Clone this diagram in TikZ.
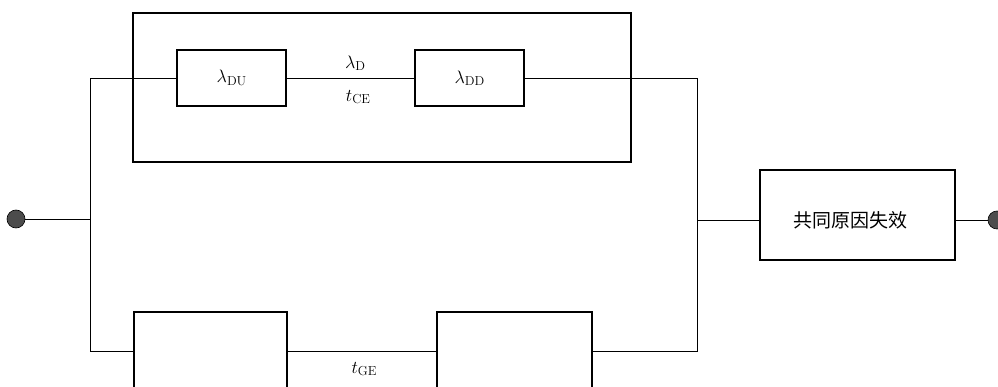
\RequirePackage{fix-cm}
\documentclass[tikz,border=0pt]{standalone}
\usepackage{fontspec}
\newfontfamily\cjk{Noto Sans CJK SC}
% upright subscript set at a fixed size below the baseline
\newcommand\lowsub[1]{\raisebox{-0.32ex}{\fontsize{13}{15}\selectfont #1}}
\begin{document}
\begin{tikzpicture}[x=1pt,y=-1pt,
  blk/.style={draw, line width=1.5pt, inner sep=0pt},
  wire/.style={line width=0.8pt},
  term/.style={circle, draw, line width=0.6pt, fill=black!70, minimum size=18pt, inner sep=0pt},
  lbl/.style={inner sep=0pt, font=\fontsize{18}{22}\selectfont}]
\clip (0,0) rectangle (998,387);
\useasboundingbox (0,0) rectangle (998,387);
% outer box around the detected branch
\node[blk, minimum width=498pt, minimum height=149pt] (grp) at (382,87.5) {};
% inner blocks
\node[blk, minimum width=109pt, minimum height=56pt, lbl] (du) at (231.5,78) {$\lambda$\lowsub{DU}};
\node[blk, minimum width=109pt, minimum height=56pt, lbl] (dd) at (469.5,78) {$\lambda$\lowsub{DD}};
% lower branch blocks
\node[blk, minimum width=153pt, minimum height=78pt] (g1) at (210.5,351) {};
\node[blk, minimum width=155pt, minimum height=78pt] (g2) at (514.5,351) {};
% common cause block
\node[blk, minimum width=195pt, minimum height=90pt] (ccf) at (857.5,215) {};
\node[inner sep=0pt, font=\cjk\fontsize{19}{22}\selectfont] (ccft) at (850,220) {共同原因失效};
% terminals
\node[term] (in) at (16,219) {};
\node[term] (out) at (997,220) {};
% junction points
\coordinate (jl) at (90,219);
\coordinate (jr) at (697,220);
\coordinate (jlt) at (90,78);
\coordinate (jlb) at (90,351);
\coordinate (jrt) at (697,78);
\coordinate (jrb) at (697,351);
% connectors
\draw[wire] (in) -- (jl);
\draw[wire] (du.west) -- (jlt) -- (jlb) -- (g1.west);
\draw[wire] (du.east) -- (dd.west);
\draw[wire] (dd.east) -- (jrt) -- (jrb) -- (g2.east);
\draw[wire] (g1.east) -- (g2.west);
\draw[wire] (jr) -- (ccf.west |- jr);
\draw[wire] (ccf.east |- out) -- (out);
% labels on the links
\node[lbl] (ld) at (355,63) {$\lambda$\lowsub{D}};
\node[lbl] (tce) at (358,97) {$t$\lowsub{CE}};
\node[lbl] (tge) at (364,369) {$t$\lowsub{GE}};
\end{tikzpicture}
\end{document}
